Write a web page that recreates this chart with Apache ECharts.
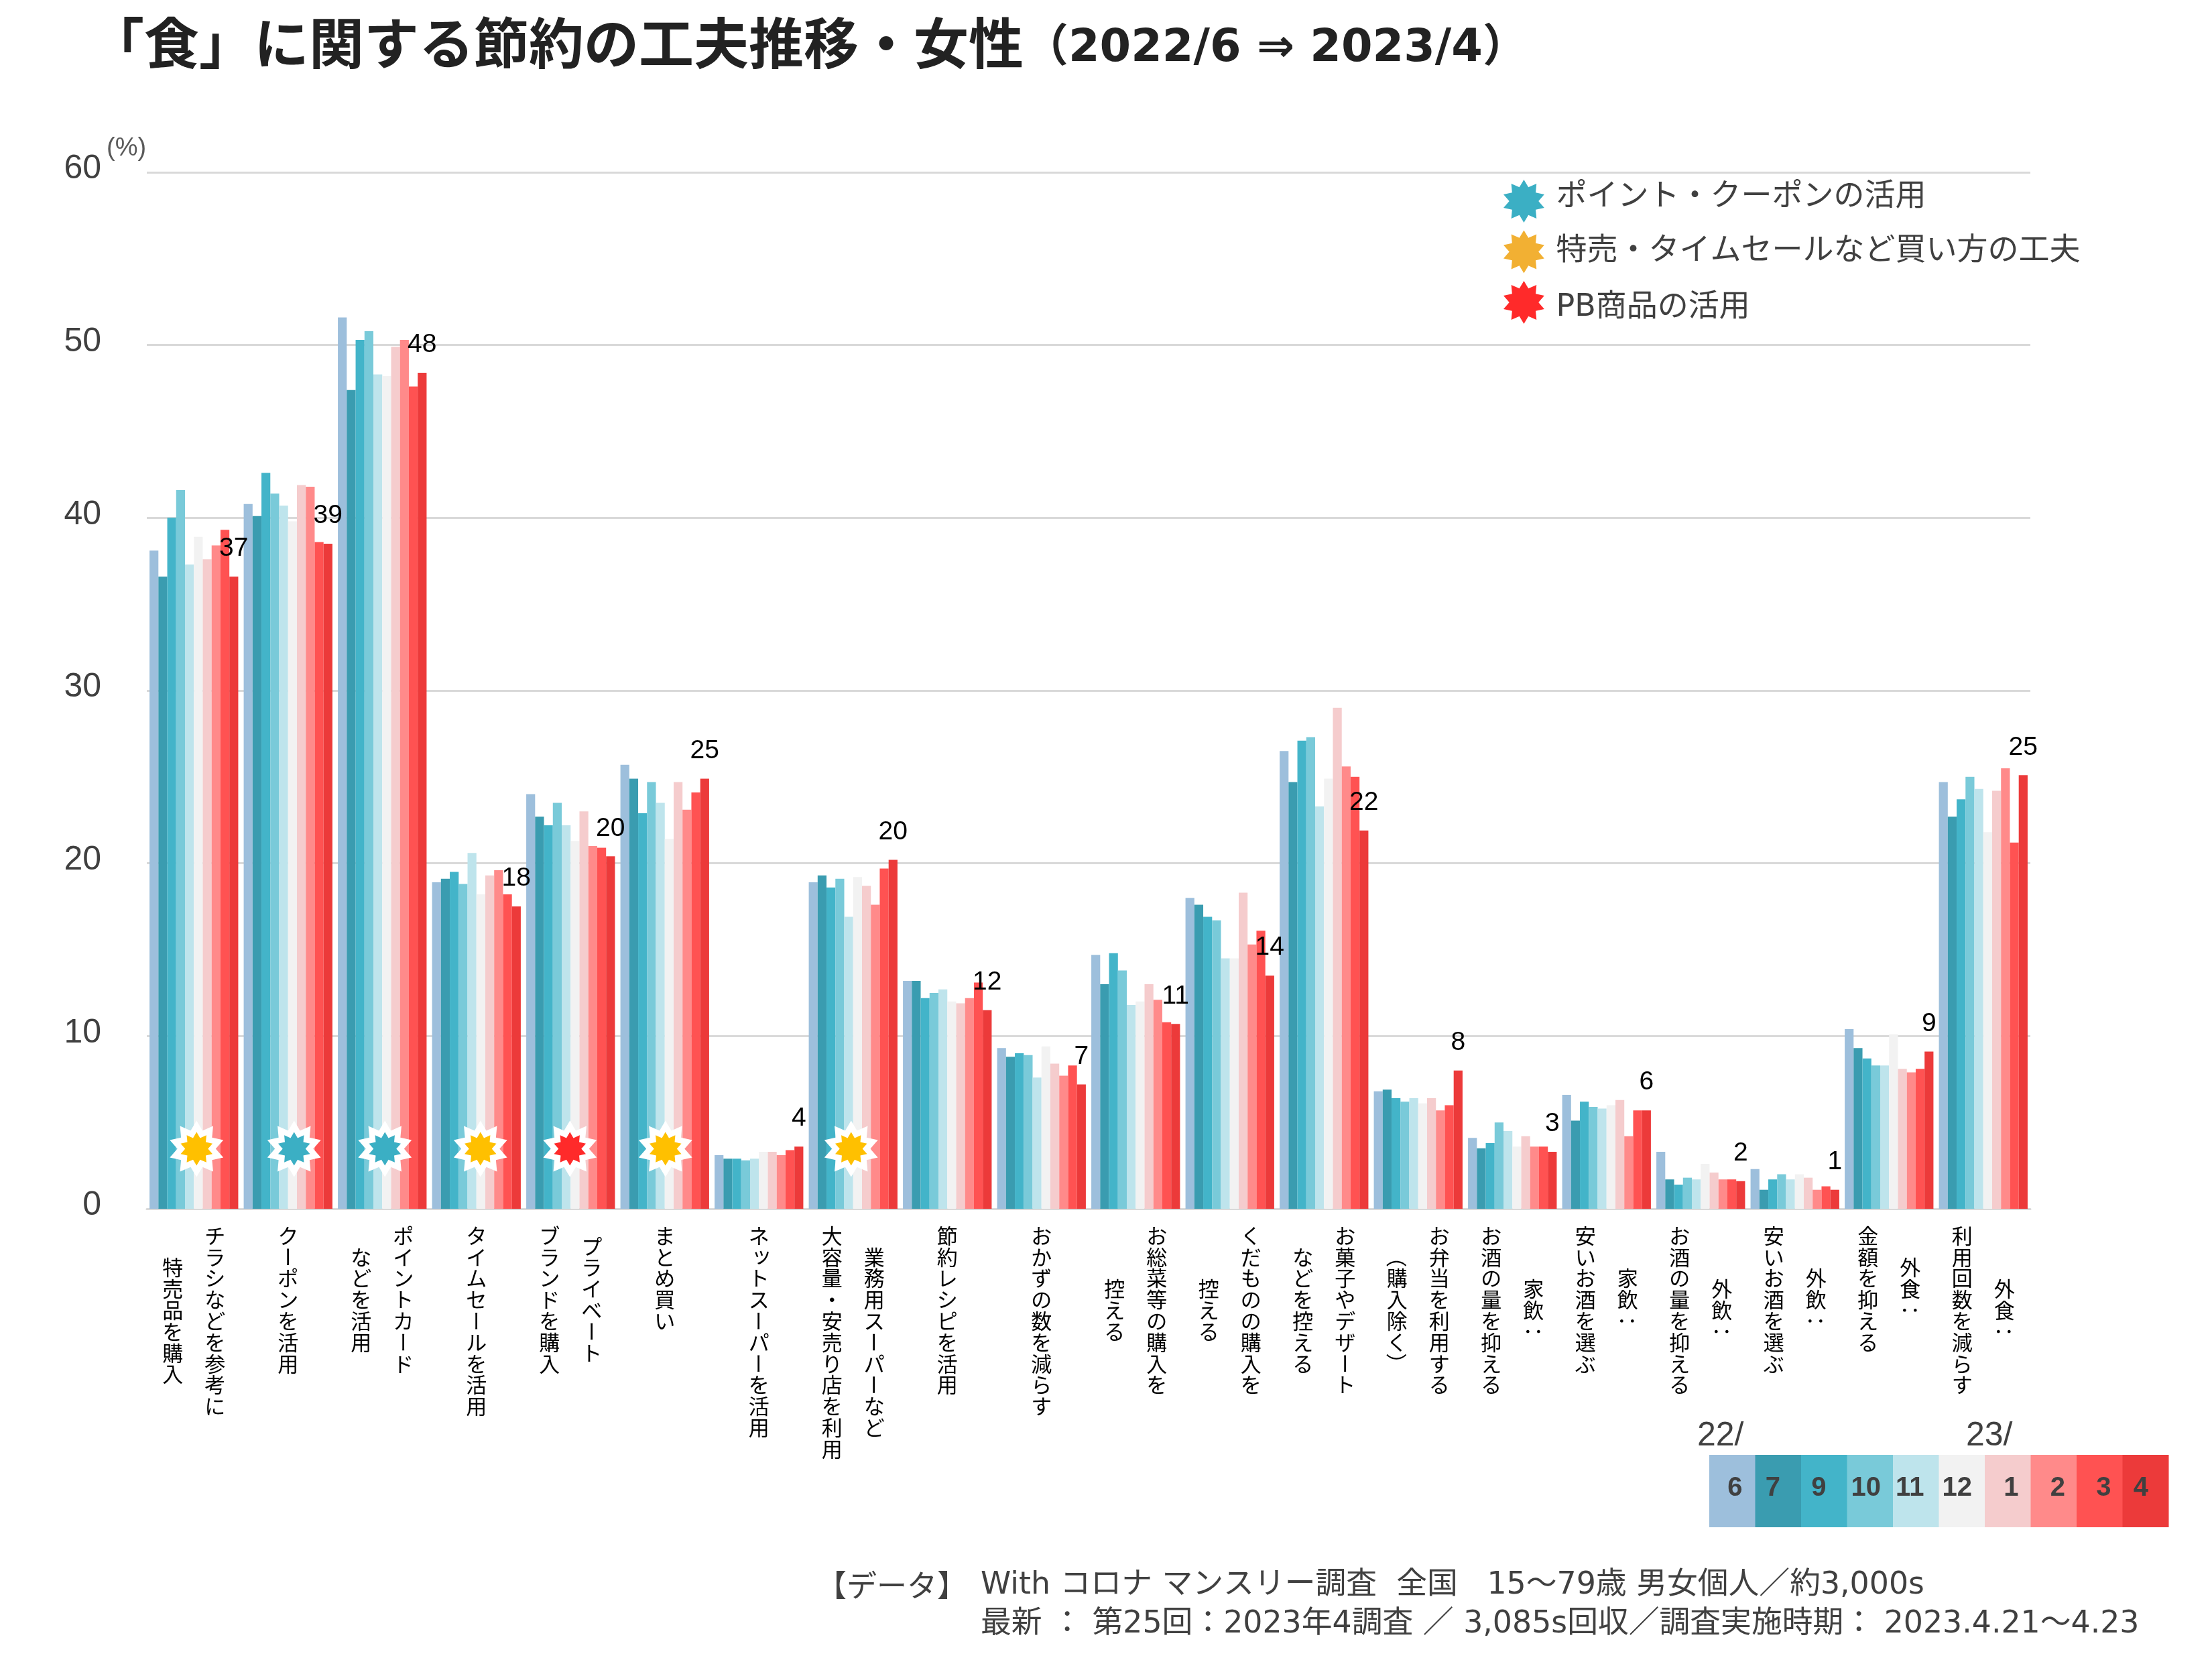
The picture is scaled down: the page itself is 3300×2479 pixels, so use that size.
<!DOCTYPE html>
<html lang="ja">
<head>
<meta charset="utf-8">
<title>「食」に関する節約の工夫推移・女性</title>
<style>
  html, body { margin: 0; padding: 0; background: #fff; }
  #chart { width: 3300px; height: 2479px; }
</style>
<script src="https://cdn.jsdelivr.net/npm/echarts@6/dist/echarts.min.js"></script>
</head>
<body>
<div id="chart"></div>
<script>
// Each category is listed as its vertical text columns, right column first.
const categoryLines = [
  ['チラシなどを参考に', '特売品を購入'],
  ['クーポンを活用'],
  ['ポイントカード', 'などを活用'],
  ['タイムセールを活用'],
  ['プライベート', 'ブランドを購入'],
  ['まとめ買い'],
  ['ネットスーパーを活用'],
  ['業務用スーパーなど', '大容量・安売り店を利用'],
  ['節約レシピを活用'],
  ['おかずの数を減らす'],
  ['お総菜等の購入を', '控える'],
  ['くだものの購入を', '控える'],
  ['お菓子やデザート', 'などを控える'],
  ['お弁当を利用する', '（購入除く）'],
  ['家飲：', 'お酒の量を抑える'],
  ['家飲：', '安いお酒を選ぶ'],
  ['外飲：', 'お酒の量を抑える'],
  ['外飲：', '安いお酒を選ぶ'],
  ['外食：', '金額を抑える'],
  ['外食：', '利用回数を減らす']
];
const categories = categoryLines.map(lines => lines.join(''));

// Monthly survey values (%), one entry per category.
const v2206 = [38.1,40.8,51.6,18.9,24.0,25.7,3.1,18.9,13.2,9.3,14.7,18.0,26.5,6.8,4.1,6.6,3.3,2.3,10.4,24.7];
const v2207 = [36.6,40.1,47.4,19.1,22.7,24.9,2.9,19.3,13.2,8.8,13.0,17.6,24.7,6.9,3.5,5.1,1.7,1.1,9.3,22.7];
const v2209 = [40.0,42.6,50.3,19.5,22.2,22.9,2.9,18.6,12.2,9.0,14.8,16.9,27.1,6.4,3.8,6.2,1.4,1.7,8.7,23.7];
const v2210 = [41.6,41.4,50.8,18.8,23.5,24.7,2.8,19.1,12.5,8.9,13.8,16.7,27.3,6.2,5.0,5.9,1.8,2.0,8.3,25.0];
const v2211 = [37.3,40.7,48.3,20.6,22.2,23.5,2.9,16.9,12.7,7.6,11.8,14.5,23.3,6.4,4.5,5.8,1.7,1.7,8.3,24.3];
const v2212 = [38.9,39.8,48.2,18.2,21.3,21.4,3.3,19.2,12.0,9.4,12.0,14.5,24.9,6.1,3.6,6.0,2.6,2.0,10.1,21.8];
const v2301 = [37.6,41.9,49.9,19.3,23.0,24.7,3.3,18.7,11.9,8.4,13.0,18.3,29.0,6.4,4.2,6.3,2.1,1.8,8.1,24.2];
const v2302 = [38.4,41.8,50.3,19.6,21.0,23.1,3.1,17.6,12.2,7.7,12.1,15.3,25.6,5.7,3.6,4.2,1.7,1.1,7.9,25.5];
const v2303 = [39.3,38.6,47.6,18.2,20.9,24.1,3.4,19.7,13.1,8.3,10.8,16.1,25.0,6.0,3.6,5.7,1.7,1.3,8.1,21.2];
const v2304 = [36.6,38.5,48.4,17.5,20.4,24.9,3.6,20.2,11.5,7.2,10.7,13.5,21.9,8.0,3.3,5.7,1.6,1.1,9.1,25.1];

const monthValues = [v2206, v2207, v2209, v2210, v2211, v2212, v2301, v2302, v2303, v2304];
const monthLabels = ['6', '7', '9', '10', '11', '12', '1', '2', '3', '4'];
const seriesNames = ['22/6', '22/7', '22/9', '22/10', '22/11', '22/12', '23/1', '23/2', '23/3', '23/4'];
const yTicks = [0, 10, 20, 30, 40, 50, 60];

// Saving technique groups and the categories each one covers.
const pointCoupon = 'ポイント・クーポンの活用';
const bargain = '特売・タイムセールなど買い方の工夫';
const privateBrand = 'PB商品の活用';
const pointCouponCats = [1, 2];
const bargainCats = [0, 3, 5, 7];
const privateBrandCats = [4];

const monthColors = ['#9DBFDC', '#3A9CB0', '#43B4C9', '#79CAD9', '#BEE4EC', '#F2F2F2', '#F5CCCD', '#FF8A8A', '#FF5252', '#EC3A3A'];
const latin = '"Liberation Sans", Arial, sans-serif';
const jp = '"Noto Sans CJK JP", sans-serif';
const mixed = '"DejaVu Sans", "Noto Sans CJK JP", sans-serif';

// Ten-pointed burst used for the technique markers.
function burstPath() {
  const pts = [];
  for (let i = 0; i < 20; i++) {
    const r = i % 2 ? 34 : 50;
    const a = i * Math.PI / 10;
    pts.push((50 + r * Math.sin(a)).toFixed(2) + ' ' + (50 - r * Math.cos(a)).toFixed(2));
  }
  return 'path://M' + pts.join('L') + 'Z';
}
const burst = burstPath();

// Small horizontal nudges that keep the bursts clear of the band centre.
const burstNudge = { 0: 4, 1: 9, 2: 4, 3: 6, 4: -1, 5: 1, 7: -3 };
const burstRow = 3.47;
const burstPoints = cats => cats.map(c => ({ value: [c, burstRow], symbolOffset: [burstNudge[c] || 0, 0] }));
const allBurstCats = [...bargainCats, ...pointCouponCats, ...privateBrandCats];

const barSeries = monthValues.map((values, i) => {
  const last = i === monthValues.length - 1;
  return {
    name: seriesNames[i],
    type: 'bar',
    data: values,
    barGap: 0,
    barCategoryGap: '5.8%',
    itemStyle: { color: monthColors[i] },
    z: 2,
    label: last ? {
      show: true,
      position: 'top',
      distance: 22,
      formatter: p => String(Math.round(p.value)),
      fontFamily: latin,
      fontSize: 39,
      color: '#000'
    } : { show: false }
  };
});

function burstSeries(name, cats, color) {
  return {
    name,
    type: 'scatter',
    data: burstPoints(cats),
    symbol: burst,
    symbolSize: 50,
    symbolKeepAspect: true,
    itemStyle: { color, opacity: 1 },
    z: 6,
    silent: true
  };
}

// Category names are set upright, one glyph at a time, as vertical columns.
const sideways = 'ー（）：';
const charPitch = 31.8;
const columnStep = 31.5;
const labelTop = 1843;
function renderCategoryColumns(params, api) {
  const idx = api.value(0);
  const cx = api.coord([idx, 0])[0];
  const lines = categoryLines[idx];
  const longest = Math.max(...lines.map(l => l.length));
  const children = [];
  lines.forEach((line, li) => {
    const x = lines.length === 1 ? cx : cx + (li === 0 ? columnStep : -columnStep);
    const start = labelTop + (longest - line.length) / 2 * charPitch;
    Array.from(line).forEach((ch, ci) => {
      const small = ch === 'ッ';
      children.push({
        type: 'text',
        x: x + (small ? 4 : 0),
        y: start + ci * charPitch - (small ? 4 : 0),
        rotation: sideways.includes(ch) ? -Math.PI / 2 : 0,
        style: {
          text: ch,
          fontFamily: jp,
          fontSize: 31,
          fill: '#000',
          align: 'center',
          verticalAlign: 'middle'
        }
      });
    });
  });
  return { type: 'group', children };
}

// Month key in the lower right corner.
const keyLeft = 2550, keyCell = 68.5, keyTop = 2170, keyHeight = 108;
const keyNudge = [4, -8, -8, -6, -9, -7, 5, 6, 6, -7];
const monthKey = [];
monthLabels.forEach((m, i) => {
  monthKey.push({
    type: 'rect',
    shape: { x: keyLeft + i * keyCell, y: keyTop, width: keyCell + 0.5, height: keyHeight },
    style: { fill: monthColors[i] },
    z: 1
  });
  monthKey.push({
    type: 'text',
    x: keyLeft + (i + 0.5) * keyCell + keyNudge[i],
    y: keyTop + 50,
    style: {
      text: m, fontFamily: latin, fontWeight: 'bold', fontSize: 40, fill: '#404040',
      align: 'center', verticalAlign: 'middle'
    },
    z: 2
  });
});

function plainText(text, x, y, fontSize, family, fill, extra) {
  return {
    type: 'text', x, y,
    style: Object.assign({ text, fontFamily: family, fontSize, fill, align: 'left', verticalAlign: 'middle' }, extra || {})
  };
}

// Legend captions sit slightly off their bursts, so each gets its own text style.
const legendCaption = { fontFamily: mixed, fontSize: 46, color: '#404040', lineHeight: 40 };
const legendStyleKey = { [pointCoupon]: 'up', [bargain]: 'mid', [privateBrand]: 'down' };

const chart = echarts.init(document.getElementById('chart'), null, { renderer: 'canvas', width: 3300, height: 2479 });
chart.setOption({
  animation: false,
  backgroundColor: '#fff',
  title: {
    text: '{a|「食」に関する節約の工夫推移・女性}{b|（2022/6 ⇒ 2023/4）}',
    left: 128,
    top: 16,
    textStyle: {
      rich: {
        a: { fontFamily: jp, fontWeight: 'bold', fontSize: 82, color: '#222', lineHeight: 86 },
        b: { fontFamily: mixed, fontWeight: 'bold', fontSize: 67, color: '#222', lineHeight: 68, verticalAlign: 'bottom' }
      }
    }
  },
  grid: { left: 219, top: 257, width: 2810, height: 1546, containLabel: false },
  legend: {
    orient: 'vertical',
    left: 2238,
    top: 263,
    data: [
      { name: pointCoupon, icon: burst, itemStyle: { color: '#3BAFC4' } },
      { name: bargain, icon: burst, itemStyle: { color: '#F2B033' } },
      { name: privateBrand, icon: burst, itemStyle: { color: '#FF2A2A' } }
    ],
    itemWidth: 86,
    itemHeight: 64,
    itemGap: 11.5,
    selectedMode: false,
    formatter: name => `{${legendStyleKey[name]}|${name}}`,
    textStyle: {
      fontFamily: mixed,
      fontSize: 46,
      color: '#404040',
      rich: {
        up: Object.assign({ padding: [0, 0, 12, 0] }, legendCaption),
        mid: legendCaption,
        down: Object.assign({ padding: [16, 0, 0, 0] }, legendCaption)
      }
    }
  },
  xAxis: {
    type: 'category',
    data: categories,
    axisLine: { show: true, lineStyle: { color: '#D9D9D9', width: 3 } },
    axisTick: { show: false },
    axisLabel: { show: false }
  },
  yAxis: {
    type: 'value',
    min: yTicks[0],
    max: yTicks[yTicks.length - 1],
    interval: 10,
    axisLine: { show: false },
    axisTick: { show: false },
    axisLabel: {
      margin: 68,
      fontFamily: latin,
      fontSize: 50,
      color: '#404040',
      verticalAlign: 'bottom',
      lineHeight: 9
    },
    splitLine: { show: true, lineStyle: { color: '#D9D9D9', width: 3 } }
  },
  series: [
    ...barSeries,
    {
      name: 'burstBacking',
      type: 'scatter',
      data: burstPoints(allBurstCats),
      symbol: burst,
      symbolSize: 84,
      symbolKeepAspect: true,
      itemStyle: { color: '#fff', opacity: 1 },
      z: 5,
      silent: true
    },
    burstSeries(pointCoupon, pointCouponCats, '#3BAFC4'),
    burstSeries(bargain, bargainCats, '#FFC000'),
    burstSeries(privateBrand, privateBrandCats, '#FF2A2A'),
    {
      name: 'categoryColumns',
      type: 'custom',
      coordinateSystem: 'cartesian2d',
      data: categories.map((c, i) => [i, 0]),
      encode: { x: 0, y: 1 },
      renderItem: renderCategoryColumns,
      clip: false,
      silent: true,
      z: 7
    }
  ],
  graphic: [
    plainText('(%)', 159, 222, 38, latin, '#595959'),
    plainText('22/', 2532, 2142, 50, latin, '#404040'),
    plainText('23/', 2933, 2142, 50, latin, '#404040'),
    ...monthKey,
    plainText('【データ】', 1218, 2365, 45, jp, '#404040'),
    plainText('With コロナ マンスリー調査  全国   15～79歳 男女個人／約3,000s', 1463, 2365, 45.8, mixed, '#404040'),
    plainText('最新 ： 第25回：2023年4調査 ／ 3,085s回収／調査実施時期： 2023.4.21～4.23', 1463, 2423, 45.8, mixed, '#404040')
  ]
});
</script>
</body>
</html>
